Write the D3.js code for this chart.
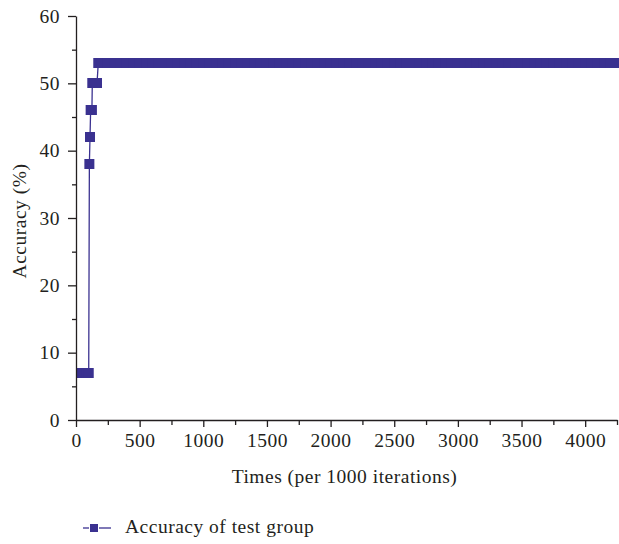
<!DOCTYPE html>
<html>
<head>
<meta charset="utf-8">
<script src="https://cdn.jsdelivr.net/npm/d3@7"></script>
<style>
  html, body { margin: 0; padding: 0; background: #fff; }
  svg { display: block; }
  text { font-family: "Liberation Serif", "Times New Roman", serif; fill: #231f20; letter-spacing: 0.5px; }
</style>
</head>
<body>
<svg id="chart" width="619" height="544"></svg>
<script>
// Data: [iterations (per 1000), accuracy (%)]
const accuracyPoints = [
  [0,7],[20,7],[40,7],[60,7],[80,7],[100,7],
  [105,38],[110,42],[115,46],[125,46],
  [128,50],[145,50],[165,50],
  [175,53],[200,53],[250,53],[300,53],[350,53],[400,53],[450,53],[500,53],[550,53],
  [600,53],[650,53],[700,53],[750,53],[800,53],[850,53],[900,53],[950,53],[1000,53],
  [1050,53],[1100,53],[1150,53],[1200,53],[1250,53],[1300,53],[1350,53],[1400,53],
  [1450,53],[1500,53],[1550,53],[1600,53],[1650,53],[1700,53],[1750,53],[1800,53],
  [1850,53],[1900,53],[1950,53],[2000,53],[2050,53],[2100,53],[2150,53],[2200,53],
  [2250,53],[2300,53],[2350,53],[2400,53],[2450,53],[2500,53],[2550,53],[2600,53],
  [2650,53],[2700,53],[2750,53],[2800,53],[2850,53],[2900,53],[2950,53],[3000,53],
  [3050,53],[3100,53],[3150,53],[3200,53],[3250,53],[3300,53],[3350,53],[3400,53],
  [3450,53],[3500,53],[3550,53],[3600,53],[3650,53],[3700,53],[3750,53],[3800,53],
  [3850,53],[3900,53],[3950,53],[4000,53],[4050,53],[4100,53],[4150,53],[4200,53],
  [4250,53]
];
const xMajorTicks = [0,500,1000,1500,2000,2500,3000,3500,4000];
const xMinorTicks = [250,750,1250,1750,2250,2750,3250,3750,4250];
const yMajorTicks = [0,10,20,30,40,50,60];
const yMinorTicks = [5,15,25,35,45,55];
const xDomain = [0, 4250];
const yDomain = [0, 60];
const seriesName = "Accuracy of test group";
const xTitle = "Times (per 1000 iterations)";
const yTitle = "Accuracy (%)";
const color = "#3a3190";

const svg = d3.select("#chart");
const mLeft = 76, mRight = 617, mTop = 16, mBottom = 420;
const fs = 19.5;
const x = d3.scaleLinear().domain(xDomain).range([mLeft, mRight]);
const y = d3.scaleLinear().domain(yDomain).range([mBottom, mTop]);

svg.append("defs").append("clipPath").attr("id", "plotclip")
  .append("rect").attr("x", mLeft + 0.5).attr("y", 0).attr("width", 619 - mLeft).attr("height", 544);

// Data line & markers
const g = svg.append("g").attr("clip-path", "url(#plotclip)");
g.append("path")
  .datum(accuracyPoints)
  .attr("fill", "none")
  .attr("stroke", color)
  .attr("stroke-width", 1.3)
  .attr("d", d3.line().x(d => x(d[0])).y(d => y(d[1])));
const ms = 10;
g.selectAll("rect.m").data(accuracyPoints).join("rect")
  .attr("class", "m")
  .attr("x", d => x(d[0]) - ms / 2)
  .attr("y", d => Math.round(y(d[1]) - ms / 2))
  .attr("width", ms).attr("height", ms)
  .attr("fill", color);

// Axes
const axisColor = "#231f20";
const xAxis = svg.append("g").attr("transform", `translate(0,${mBottom})`)
  .call(d3.axisBottom(x).tickValues(xMajorTicks).tickSize(7).tickPadding(6).tickSizeOuter(0).tickFormat(d3.format("d")));
xAxis.select(".domain").attr("stroke", axisColor).attr("stroke-width", 1.3);
xAxis.selectAll(".tick line").attr("stroke", axisColor).attr("stroke-width", 1.3);
xAxis.selectAll(".tick text").attr("font-size", fs).attr("font-family", "Liberation Serif").attr("fill", axisColor);
svg.append("g").attr("transform", `translate(0,${mBottom})`)
  .call(d3.axisBottom(x).tickValues(xMinorTicks).tickSize(5).tickFormat(""))
  .call(s => s.select(".domain").remove())
  .selectAll(".tick line").attr("stroke", axisColor).attr("stroke-width", 1.3);

const yAxis = svg.append("g").attr("transform", `translate(${mLeft},0)`)
  .call(d3.axisLeft(y).tickValues(yMajorTicks).tickSize(8).tickPadding(8).tickSizeOuter(0).tickFormat(d3.format("d")));
yAxis.select(".domain").attr("stroke", axisColor).attr("stroke-width", 1.3);
yAxis.selectAll(".tick line").attr("stroke", axisColor).attr("stroke-width", 1.3);
yAxis.selectAll(".tick text").attr("font-size", fs).attr("font-family", "Liberation Serif").attr("fill", axisColor);
svg.append("g").attr("transform", `translate(${mLeft},0)`)
  .call(d3.axisLeft(y).tickValues(yMinorTicks).tickSize(4).tickFormat(""))
  .call(s => s.select(".domain").remove())
  .selectAll(".tick line").attr("stroke", axisColor).attr("stroke-width", 1.3);

// Titles
svg.append("text")
  .attr("x", (mLeft + mRight) / 2 - 2).attr("y", 483)
  .attr("text-anchor", "middle").attr("font-size", fs)
  .text(xTitle);
svg.append("text")
  .attr("transform", `translate(26,${(mTop + mBottom) / 2 + 3}) rotate(-90)`)
  .attr("text-anchor", "middle").attr("font-size", fs)
  .text(yTitle);

// Legend
const lg = svg.append("g");
lg.append("line").attr("x1", 83).attr("x2", 89).attr("y1", 528).attr("y2", 528)
  .attr("stroke", color).attr("stroke-width", 1.3);
lg.append("line").attr("x1", 99).attr("x2", 111).attr("y1", 528).attr("y2", 528)
  .attr("stroke", color).attr("stroke-width", 1.3);
lg.append("rect").attr("x", 90).attr("y", 524).attr("width", 8).attr("height", 8).attr("fill", color);
lg.append("text").attr("x", 125).attr("y", 533).attr("font-size", fs).text(seriesName);
</script>
</body>
</html>
